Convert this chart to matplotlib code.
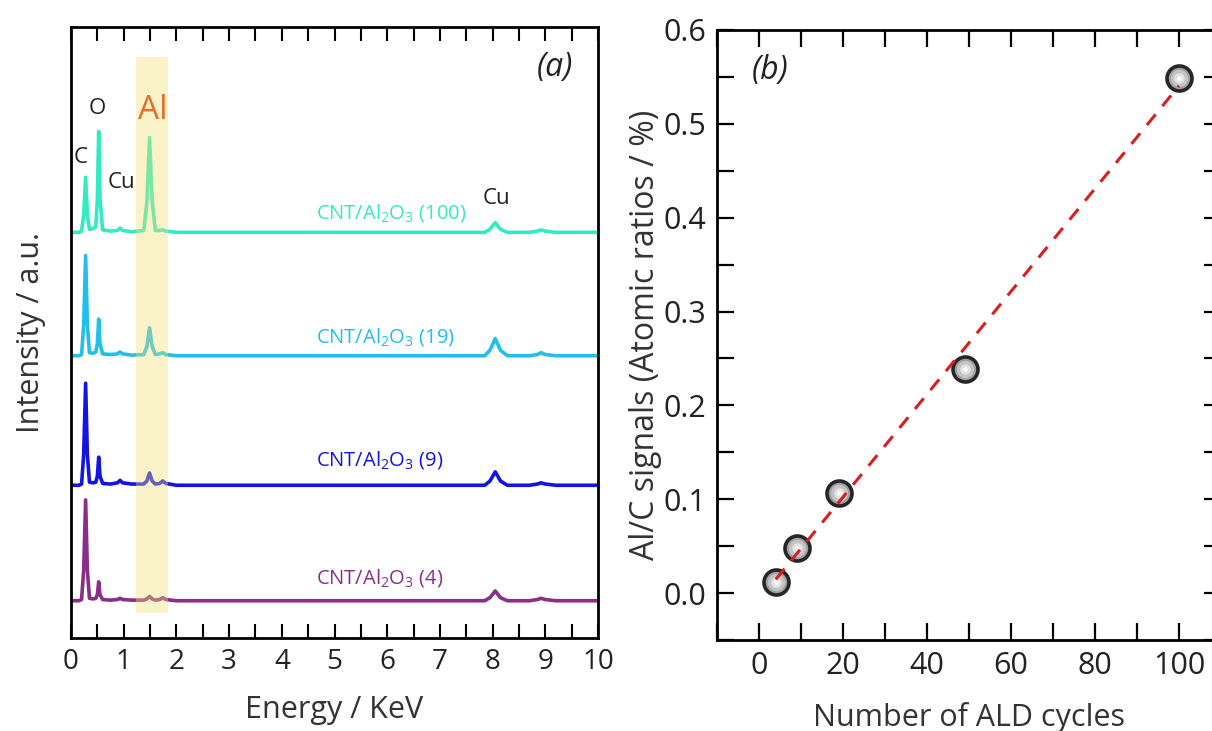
import matplotlib.pyplot as plt
import numpy as np
from matplotlib.ticker import MultipleLocator

plt.rcParams['font.family'] = ['Open Sans', 'DejaVu Sans']
plt.rcParams['mathtext.fontset'] = 'custom'
plt.rcParams['mathtext.rm'] = 'Open Sans'

# ---- panel (a): EDS spectra ----
energy = [0.0, 0.15, 0.20, 0.24, 0.277, 0.31, 0.35, 0.42, 0.47, 0.50, 0.525, 0.55,
          0.60, 0.75, 0.88, 0.93, 0.98, 1.15, 1.38, 1.44, 1.49, 1.54, 1.60, 1.68,
          1.74, 1.80, 2.0, 3.0, 4.0, 5.0, 6.0, 7.0, 7.85, 7.95, 8.05, 8.15, 8.28,
          8.70, 8.85, 8.92, 9.00, 9.20, 10.0]

spec_4 = [0.0, 0.0, 0.02, 0.50, 1.65, 0.50, 0.04, 0.03, 0.04, 0.10, 0.31, 0.10,
          0.02, 0.01, 0.02, 0.04, 0.02, 0.01, 0.01, 0.03, 0.07, 0.03, 0.01, 0.02,
          0.05, 0.02, 0.0, 0.0, 0.0, 0.0, 0.0, 0.0, 0.0, 0.05, 0.16, 0.05, 0.0,
          0.0, 0.02, 0.04, 0.02, 0.0, 0.0]
spec_9 = [0.0, 0.0, 0.02, 0.50, 1.67, 0.50, 0.05, 0.04, 0.05, 0.15, 0.46, 0.15,
          0.03, 0.02, 0.04, 0.08, 0.04, 0.02, 0.02, 0.07, 0.20, 0.07, 0.02, 0.03,
          0.07, 0.03, 0.0, 0.0, 0.0, 0.0, 0.0, 0.0, 0.0, 0.07, 0.22, 0.07, 0.0,
          0.0, 0.02, 0.04, 0.02, 0.0, 0.0]
spec_19 = [0.0, 0.0, 0.02, 0.50, 1.64, 0.50, 0.05, 0.04, 0.06, 0.20, 0.60, 0.20,
           0.03, 0.02, 0.03, 0.06, 0.03, 0.01, 0.02, 0.15, 0.46, 0.15, 0.02, 0.03,
           0.05, 0.02, 0.0, 0.0, 0.0, 0.0, 0.0, 0.0, 0.0, 0.09, 0.28, 0.09, 0.0,
           0.0, 0.02, 0.05, 0.02, 0.0, 0.0]
spec_100 = [0.0, 0.0, 0.02, 0.28, 0.90, 0.28, 0.05, 0.06, 0.10, 0.55, 1.65, 0.55,
            0.04, 0.02, 0.03, 0.07, 0.03, 0.01, 0.03, 0.50, 1.55, 0.50, 0.03, 0.03,
            0.04, 0.02, 0.0, 0.0, 0.0, 0.0, 0.0, 0.0, 0.0, 0.05, 0.16, 0.05, 0.0,
            0.0, 0.02, 0.04, 0.02, 0.0, 0.0]

spectra = [spec_100, spec_19, spec_9, spec_4]
offsets = [6.64, 4.62, 2.50, 0.61]
cycles_a = ['100', '19', '9', '4']
colors = ['#33EBC2', '#22BFEA', '#1414E0', '#8A2E8A']
label_y = [6.96, 4.93, 2.91, 0.98]

# ---- panel (b): Al/C ratio vs ALD cycles ----
ald_cycles = [4, 9, 19, 49, 100]
alc_ratio = [0.012, 0.048, 0.107, 0.239, 0.549]

fig = plt.figure(figsize=(12.12, 7.31), dpi=100)
ax1 = fig.add_axes([0.0586, 0.1272, 0.4348, 0.8358])
ax2 = fig.add_axes([0.5916, 0.1245, 0.4158, 0.8345])

dark = '#333333'

for ys, off, col, lab, ly in zip(spectra, offsets, colors, cycles_a, label_y):
    ax1.plot(energy, np.array(ys) + off, color=col, lw=2.6, zorder=2,
             solid_joinstyle='round')
    ax1.text(4.65, ly, 'CNT/Al$_2$O$_3$ (' + lab + ')', color=col,
             fontsize=14.5, va='center', ha='left')

# Al highlight band
ax1.fill_between([1.23, 1.84], 0.41, 9.51, color='#F2DF72', alpha=0.38,
                 lw=0, zorder=3)

ax1.text(0.19, 7.86, 'C', fontsize=16, color='#222222', ha='center', va='center')
ax1.text(0.49, 8.67, 'O', fontsize=16, color='#222222', ha='center', va='center')
ax1.text(0.95, 7.45, 'Cu', fontsize=16, color='#222222', ha='center', va='center')
ax1.text(1.56, 8.64, 'Al', fontsize=24, color='#E0702A', ha='center', va='center')
ax1.text(8.08, 7.2, 'Cu', fontsize=16, color='#222222', ha='center', va='center')
ax1.text(9.18, 9.33, '(a)', fontsize=23, style='italic', color='#222222',
         ha='center', va='center')

ax1.set_xlim(0, 10)
ax1.set_ylim(0, 10)
ax1.xaxis.set_major_locator(MultipleLocator(1))
ax1.xaxis.set_minor_locator(MultipleLocator(0.5))
ax1.set_yticks([])
ax1.tick_params(axis='x', which='both', direction='in', top=True, length=10,
                width=1.5, labelsize=20, labelcolor='#222222', pad=7)
ax1.set_xlabel('Energy / KeV', fontsize=22, color=dark, labelpad=14)
ax1.set_ylabel('Intensity / a.u.', fontsize=22, color=dark, labelpad=18)
for s in ax1.spines.values():
    s.set_linewidth(2)

# panel (b)
ax2.plot(ald_cycles, alc_ratio, 'o', ms=18, mfc='#A0A0A0', mec='#262626',
         mew=2.6, zorder=3)
ax2.plot(ald_cycles, alc_ratio, 'o', ms=12.5, mfc='#C4C4C4', mec='none', zorder=4)
ax2.plot(ald_cycles, alc_ratio, 'o', ms=7.5, mfc='#E4E4E4', mec='none', zorder=5)
ax2.plot(ald_cycles, alc_ratio, 'o', ms=3.5, mfc='#FAFAFA', mec='none', zorder=5)

slope, icpt = np.polyfit(ald_cycles, alc_ratio, 1)
fit_x = np.array([ald_cycles[0], ald_cycles[-1]])
ax2.plot(fit_x, slope * fit_x + icpt, '--', color='#D42020', lw=2.2,
         dashes=(4.5, 3.5), zorder=6)

ax2.text(2.6, 0.557, '(b)', fontsize=23, style='italic', color='#222222',
         ha='center', va='center')

ax2.set_xlim(-10, 110)
ax2.set_ylim(-0.05, 0.6)
ax2.xaxis.set_major_locator(MultipleLocator(20))
ax2.xaxis.set_minor_locator(MultipleLocator(10))
ax2.yaxis.set_major_locator(MultipleLocator(0.1))
ax2.yaxis.set_minor_locator(MultipleLocator(0.05))
ax2.yaxis.set_major_formatter(plt.FormatStrFormatter('%.1f'))
ax2.tick_params(which='both', direction='in', top=True, right=True, length=12,
                width=1.6, labelsize=22, labelcolor='#222222', pad=8)
ax2.set_xlabel('Number of ALD cycles', fontsize=22, color=dark, labelpad=15)
ax2.set_ylabel('Al/C signals (Atomic ratios / %)', fontsize=23, color=dark,
               labelpad=1)
for s in ax2.spines.values():
    s.set_linewidth(2)

fig.savefig('out.png', dpi=100, facecolor='white')
